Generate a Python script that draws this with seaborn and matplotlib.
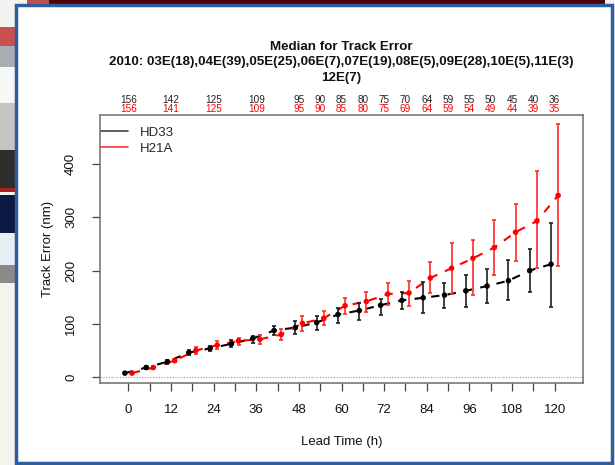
import matplotlib
matplotlib.use("Agg")
import matplotlib.pyplot as plt
from matplotlib.patches import Rectangle
from matplotlib.lines import Line2D
import numpy as np
import pandas as pd
import seaborn as sns

# -----------------------------
# DATA
# -----------------------------

LEAD = [0, 6, 12, 18, 24, 30, 36, 42, 48, 54, 60, 66, 72, 78, 84, 90, 96, 102, 108, 114, 120]

HD33_MED = [7.5, 18, 29, 46, 54, 62.5, 72.5, 87.5, 93, 102.5, 117.5, 125, 135, 144, 149, 154, 162, 171, 181, 200, 212]
HD33_LO = [6.5, 16, 25, 41, 49, 56, 65, 79, 81, 89, 102.5, 108, 117.5, 128, 120.5, 129, 131, 139, 144, 159, 132.5]
HD33_HI = [8.5, 20, 32.5, 51, 59, 69, 78, 96, 105, 115, 130.5, 139, 146, 160, 178, 177.5, 192, 203, 219, 241, 290]

H21A_MED = [7.5, 18, 31, 50, 60, 68, 71, 80, 101, 110.5, 134, 142, 156, 158, 186, 204.5, 223, 243, 272, 293, 341]
H21A_LO = [6.5, 16, 28, 44, 52, 61, 62.5, 70, 87.5, 97, 119, 122, 135.5, 133, 157, 156, 154, 192, 218, 205, 209]
H21A_HI = [8.5, 20, 34, 56, 67.5, 73, 80, 90, 114, 124, 149, 160.5, 176, 181, 215.5, 252.5, 258, 294, 325, 386, 475]

COUNT_LEAD = [0, 12, 24, 36, 48, 54, 60, 66, 72, 78, 84, 90, 96, 102, 108, 114, 120]
COUNT_HD33 = [156, 142, 125, 109, 95, 90, 85, 80, 75, 70, 64, 59, 55, 50, 45, 40, 36]
COUNT_H21A = [156, 141, 125, 109, 95, 90, 85, 80, 75, 69, 64, 59, 54, 49, 44, 39, 35]

X_TICKS = LEAD
X_TICKLABELS = ["0", "", "12", "", "24", "", "36", "", "48", "", "60", "", "72", "",
                "84", "", "96", "", "108", "", "120"]
Y_TICKS = [0, 100, 200, 300, 400]

TITLE_LINES = [
    "Median for Track Error",
    "2010: 03E(18),04E(39),05E(25),06E(7),07E(19),08E(5),09E(28),10E(5),11E(3)",
    "12E(7)",
]

MODELS = ["HD33", "H21A"]
COLORS = {"HD33": "#000000", "H21A": "#ff0000"}
BAR_COLORS = {"HD33": "#1e1e1e", "H21A": "#ff2a2a"}
OFFSET = {"HD33": -1, "H21A": 1}

# -----------------------------
# BUILD TABLE
# -----------------------------

frames = []
for name, med, lo, hi in [("HD33", HD33_MED, HD33_LO, HD33_HI),
                          ("H21A", H21A_MED, H21A_LO, H21A_HI)]:
    frames.append(pd.DataFrame({
        "lead": LEAD,
        "x": np.array(LEAD) + OFFSET[name],
        "median": med,
        "lo": lo,
        "hi": hi,
        "model": name,
    }))
df = pd.concat(frames, ignore_index=True)

# -----------------------------
# FIGURE
# -----------------------------

sns.set_theme(style="white")
plt.rcParams["font.family"] = ["Liberation Sans", "DejaVu Sans"]

W, H = 615, 465
fig = plt.figure(figsize=(W / 100, H / 100), dpi=100)
fig.patch.set_facecolor("#f4f4ee")


def px_rect(x0, y0, x1, y1, color, **kw):
    fig.add_artist(Rectangle((x0 / W, 1 - y1 / H), (x1 - x0) / W, (y1 - y0) / H,
                             transform=fig.transFigure, facecolor=color,
                             edgecolor=kw.pop("edgecolor", "none"), zorder=-10, **kw))


# screenshot background around the plot window
px_rect(0, 0, 16, 27, "#f2f2f2")
px_rect(0, 27, 16, 46, "#c9504f")
px_rect(0, 46, 16, 67, "#a9aeb5")
px_rect(0, 67, 16, 103, "#f7f7f7")
px_rect(0, 103, 16, 150, "#c4c4c4")
px_rect(0, 150, 16, 192, "#2e2e2e")
px_rect(0, 188, 16, 192, "#a82020")
px_rect(0, 195, 16, 233, "#0f1a42")
px_rect(0, 233, 16, 265, "#e6edf5")
px_rect(0, 265, 16, 283, "#8a8a8a")
px_rect(27, 0, 49, 5, "#c05050")
px_rect(49, 0, 605, 5, "#4d0505")
px_rect(16, 5, 612, 463, "white", edgecolor="#2f5e9e", linewidth=2.5)

ax = fig.add_axes([100 / W, 1 - 383 / H, (583 - 100) / W, (383 - 115) / H])
ax.set_facecolor("white")

for name in MODELS:
    sub = df[df["model"] == name]
    sns.lineplot(data=sub, x="x", y="median", color=COLORS[name], ax=ax,
                 linestyle=(0, (4, 4)), linewidth=1.5, errorbar=None, zorder=2)
    ax.errorbar(sub["x"], sub["median"],
                yerr=[sub["median"] - sub["lo"], sub["hi"] - sub["median"]],
                fmt="none", ecolor=BAR_COLORS[name], elinewidth=1.2,
                capsize=1.6, capthick=1.2, zorder=3)

sns.scatterplot(data=df, x="x", y="median", hue="model", palette=COLORS,
                s=16, linewidth=0, legend=False, ax=ax, zorder=4)

ax.axhline(0, color="#9a9a9a", linestyle=(0, (1, 1.5)), linewidth=0.8, zorder=1)

ax.set_xlim(-8, 128)
ax.set_ylim(-11, 492)
ax.set_xticks(X_TICKS)
ax.set_xticklabels(X_TICKLABELS, fontsize=9.5)
ax.set_yticks(Y_TICKS)
ax.set_yticklabels([str(v) for v in Y_TICKS], fontsize=9.5, rotation=90, va="center")
ax.tick_params(axis="both", which="major", direction="out", length=6, width=0.9,
               color="#444444", labelcolor="#111111")
ax.tick_params(axis="x", pad=9)
ax.tick_params(axis="y", pad=10.5)
ax.tick_params(bottom=True, left=True)

for sp in ax.spines.values():
    sp.set_color("#6e6e6e")
    sp.set_linewidth(1.1)

ax.set_xlabel("Lead Time (h)", fontsize=9.5, color="#111111")
ax.set_ylabel("Track Error (nm)", fontsize=9.5, color="#111111")
ax.xaxis.set_label_coords(0.5, -0.222)
ax.yaxis.set_label_coords(-0.108, 0.5)
ax.xaxis.label.set_va("center")
ax.yaxis.label.set_va("center")

# case counts above the panel
trans = ax.get_xaxis_transform()
for lead, c1, c2 in zip(COUNT_LEAD, COUNT_HD33, COUNT_H21A):
    ax.text(lead, 1.056, str(c1), transform=trans, ha="center", va="center",
            fontsize=7.2, color="#222222", clip_on=False)
    ax.text(lead, 1.022, str(c2), transform=trans, ha="center", va="center",
            fontsize=7.2, color="#ff0000", clip_on=False)

# title, three centred lines
cx = (100 + 583) / 2 / W
for i, line in enumerate(TITLE_LINES):
    fig.text(cx, 1 - (46.5 + 15.5 * i) / H, line, ha="center", va="center",
             fontsize=9.6, fontweight="bold", color="#111111")

handles = [Line2D([], [], color="#444444", linewidth=1.2),
           Line2D([], [], color="#ff3030", linewidth=1.2)]
ax.legend(handles, MODELS, loc="upper left", bbox_to_anchor=(0.003, 0.957),
          frameon=False, fontsize=9.5, handlelength=2.0, handletextpad=0.9,
          labelspacing=0.3, borderpad=0, borderaxespad=0)

fig.savefig("out.png", dpi=100, facecolor=fig.get_facecolor())
